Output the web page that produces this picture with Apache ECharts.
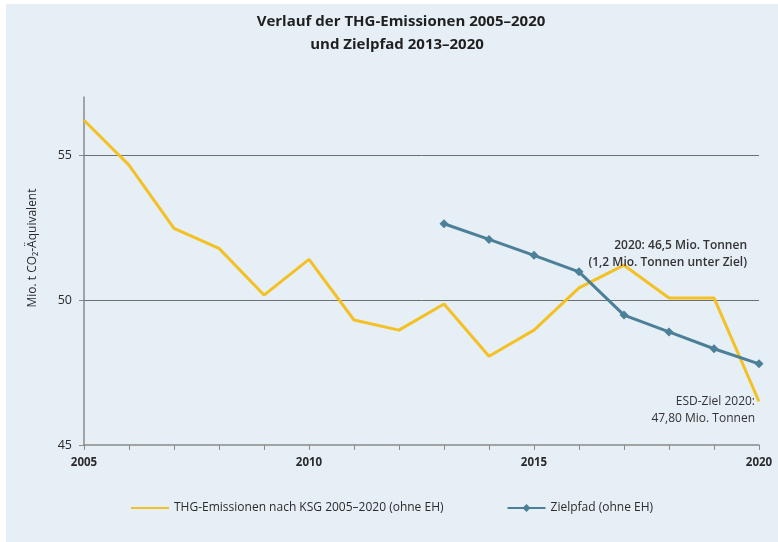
<!DOCTYPE html>
<html>
<head>
<meta charset="utf-8">
<script src="https://cdn.jsdelivr.net/npm/echarts@6/dist/echarts.min.js"></script>
<style>
  html, body { margin: 0; padding: 0; background: #ffffff; }
  #chart { width: 778px; height: 542px; }
</style>
</head>
<body>
<div id="chart"></div>
<script>
// Emissions (Mio. t CO2-Äquivalent), 2005–2020
const emissionYears = [2005, 2006, 2007, 2008, 2009, 2010, 2011, 2012, 2013, 2014, 2015, 2016, 2017, 2018, 2019, 2020];
const emissionValues = [56.2, 54.65, 52.47, 51.78, 50.17, 51.4, 49.31, 48.96, 49.86, 48.06, 48.96, 50.42, 51.2, 50.07, 50.07, 46.5];

// Target path 2013–2020
const targetYears = [2013, 2014, 2015, 2016, 2017, 2018, 2019, 2020];
const targetValues = [52.63, 52.09, 51.54, 50.97, 49.48, 48.9, 48.32, 47.8];

const yTickValues = [45, 50, 55];
const gridLineValues = [50, 55];
const xLabelYears = [2005, 2010, 2015, 2020];

const FONT = '"Open Sans", "DejaVu Sans", sans-serif';
const YELLOW = '#F3C124';
const BLUE = '#4C7F98';
const TEXT = '#2b2b2b';

const chart = echarts.init(document.getElementById('chart'));

// invisible anchor used to pin an annotation to a data point
const anchor = { symbol: 'circle', symbolSize: 1, itemStyle: { color: 'rgba(0,0,0,0)' } };

chart.setOption({
  backgroundColor: '#ffffff',
  animation: false,
  textStyle: { fontFamily: FONT },
  graphic: [
    { type: 'rect', z: -10, shape: { x: 6, y: 4, width: 772, height: 538 }, style: { fill: '#E6EEF6' } },
    {
      type: 'text', x: 401, y: 22,
      style: {
        text: 'Verlauf der THG-Emissionen 2005–2020',
        font: 'bold 15px ' + FONT, fill: '#1f1f1f', align: 'center', verticalAlign: 'middle'
      }
    },
    {
      type: 'text', x: 397, y: 45,
      style: {
        text: 'und Zielpfad 2013–2020',
        font: 'bold 15px ' + FONT, fill: '#1f1f1f', align: 'center', verticalAlign: 'middle'
      }
    },
    {
      type: 'text', x: 33, y: 248, rotation: Math.PI / 2,
      style: {
        text: 'Mio. t CO₂-Äquivalent',
        font: '12px ' + FONT, fill: TEXT, align: 'center', verticalAlign: 'middle'
      }
    }
  ],
  grid: { left: 84, right: 19, top: 97, bottom: 97, containLabel: false },
  legend: {
    bottom: 23, left: 126, itemGap: 63, itemWidth: 38, itemHeight: 10,
    textStyle: { fontSize: 12, color: TEXT, fontFamily: FONT },
    data: [
      { name: 'THG-Emissionen nach KSG 2005–2020 (ohne EH)', icon: 'path://M0,4 L38,4 L38,6 L0,6 Z' },
      { name: 'Zielpfad (ohne EH)' }
    ]
  },
  xAxis: {
    type: 'value', min: 2005, max: 2020, interval: 1,
    axisLine: { lineStyle: { color: '#8a8a8a', width: 1.5 } },
    axisTick: { show: true, length: 5, lineStyle: { color: '#8a8a8a' } },
    splitLine: { show: false },
    axisLabel: {
      color: TEXT, fontSize: 11.5, fontWeight: 'bold', margin: 12,
      formatter: v => (xLabelYears.indexOf(v) >= 0 ? String(v) : '')
    }
  },
  yAxis: {
    type: 'value', min: 45, max: 57,
    axisLine: { show: true, lineStyle: { color: '#8a8a8a', width: 1.5 } },
    axisTick: { show: true, length: 5, inside: false, customValues: yTickValues, lineStyle: { color: '#8a8a8a' } },
    axisLabel: { color: TEXT, fontSize: 12.5, margin: 12, customValues: yTickValues },
    splitLine: { show: false }
  },
  series: [
    {
      name: 'THG-Emissionen nach KSG 2005–2020 (ohne EH)',
      type: 'line',
      data: emissionYears.map((y, i) => [y, emissionValues[i]]),
      showSymbol: false, symbol: 'none',
      lineStyle: { color: YELLOW, width: 3 },
      itemStyle: { color: YELLOW },
      z: 3,
      markLine: {
        silent: true, symbol: 'none', z: 1,
        label: { show: false },
        lineStyle: { color: '#6f6f6f', width: 1, type: 'solid' },
        data: gridLineValues.map(v => ({ yAxis: v }))
      },
      markPoint: {
        silent: true,
        data: [
          Object.assign({
            coord: [2020, emissionValues[emissionValues.length - 1]],
            label: {
              show: true, position: 'inside', offset: [-12, -147],
              formatter: '2020: 46,5 Mio. Tonnen\n(1,2 Mio. Tonnen unter Ziel)',
              align: 'right', verticalAlign: 'middle', lineHeight: 17,
              fontSize: 12, fontWeight: 600, color: '#333333', fontFamily: FONT
            }
          }, anchor)
        ]
      }
    },
    {
      name: 'Zielpfad (ohne EH)',
      type: 'line',
      data: targetYears.map((y, i) => [y, targetValues[i]]),
      symbol: 'diamond', symbolSize: 9, showSymbol: true,
      lineStyle: { color: BLUE, width: 3 },
      itemStyle: { color: BLUE },
      z: 4,
      markPoint: {
        silent: true,
        data: [
          Object.assign({
            coord: [2020, targetValues[targetValues.length - 1]],
            label: {
              show: true, position: 'inside', offset: [-4, 46],
              formatter: 'ESD-Ziel 2020:\n47,80 Mio. Tonnen',
              align: 'right', verticalAlign: 'middle', lineHeight: 17,
              fontSize: 12, color: '#333333', fontFamily: FONT
            }
          }, anchor)
        ]
      }
    }
  ]
});
</script>
</body>
</html>
